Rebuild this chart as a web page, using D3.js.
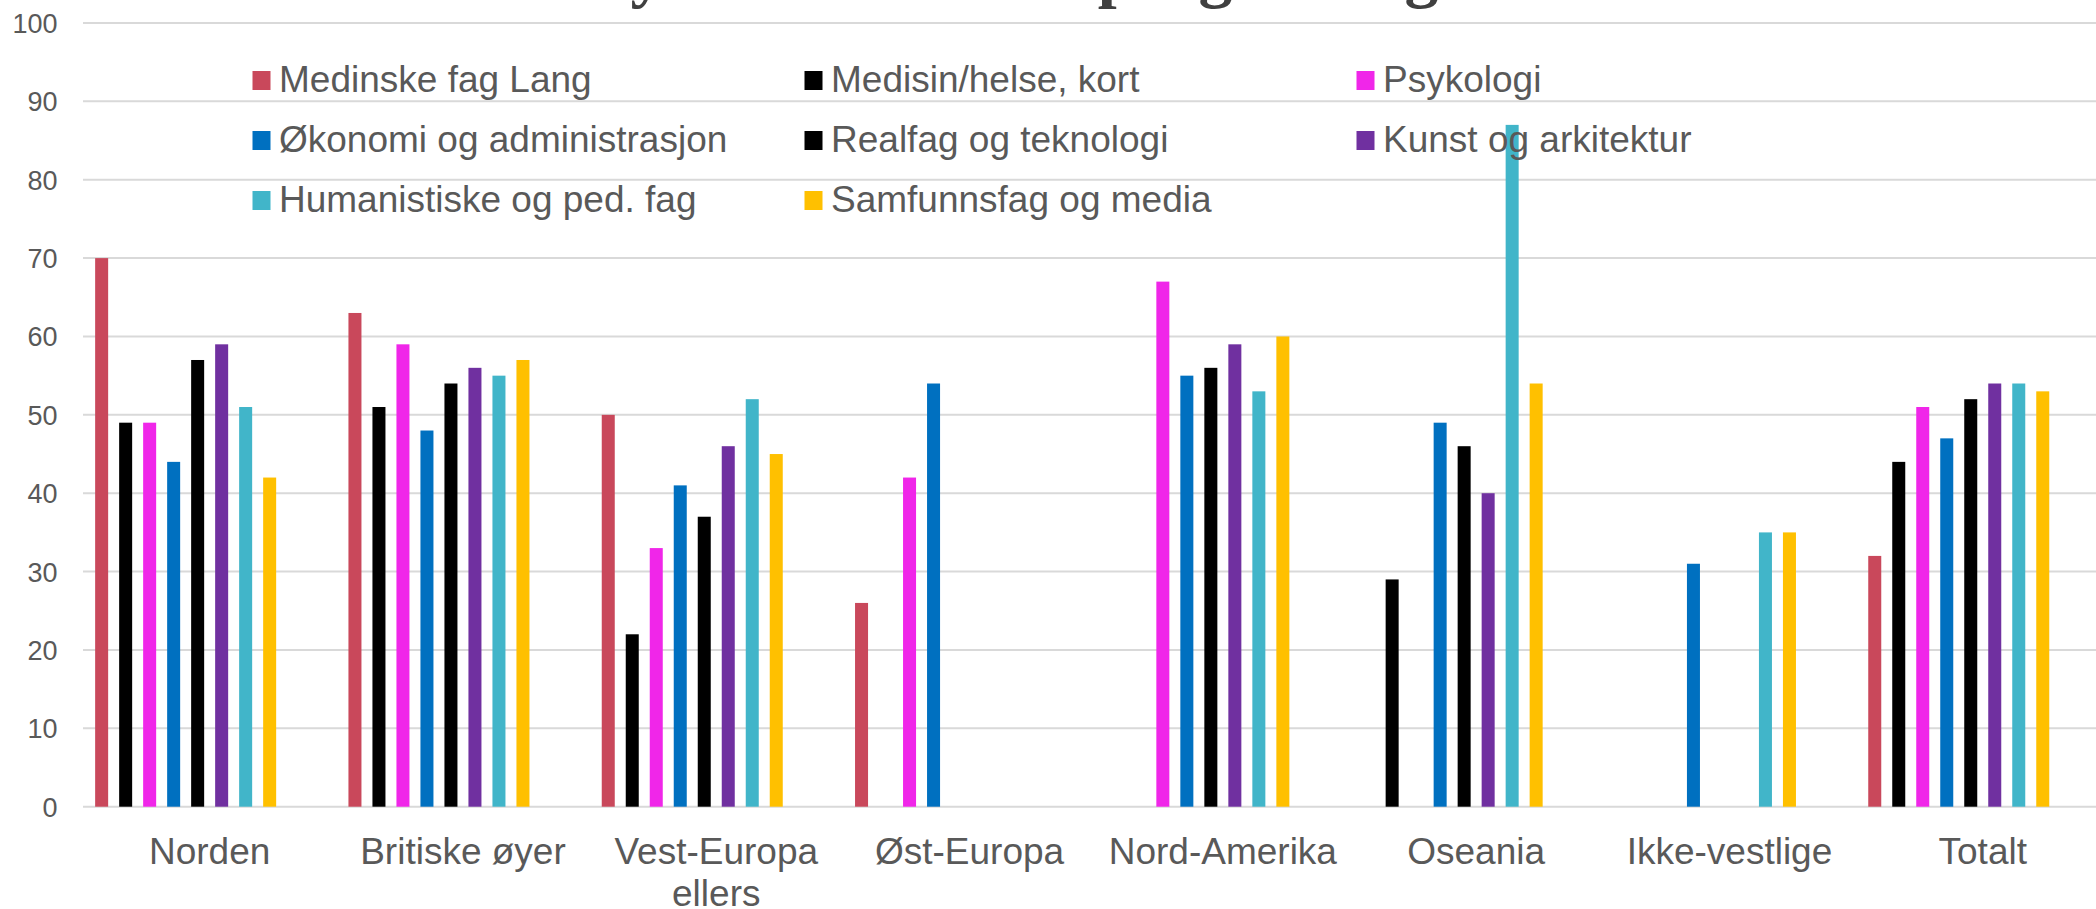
<!DOCTYPE html>
<html>
<head>
<meta charset="utf-8">
<script src="https://cdn.jsdelivr.net/npm/d3@7"></script>
<style>
  html, body { margin: 0; padding: 0; background: #ffffff; overflow: hidden; }
  svg { display: block; }
</style>
</head>
<body>
<svg id="chart" width="2096" height="909"></svg>
<script>
// ---- data ----
const categories = ["Norden", "Britiske øyer", "Vest-Europa ellers", "Øst-Europa", "Nord-Amerika", "Oseania", "Ikke-vestlige", "Totalt"];
const categoryLines = [["Norden"], ["Britiske øyer"], ["Vest-Europa", "ellers"], ["Øst-Europa"], ["Nord-Amerika"], ["Oseania"], ["Ikke-vestlige"], ["Totalt"]];
const seriesNames = ["Medinske fag Lang", "Medisin/helse, kort", "Psykologi", "Økonomi og administrasjon", "Realfag og teknologi", "Kunst og arkitektur", "Humanistiske og ped. fag", "Samfunnsfag og media"];
const seriesColors = ["#C9485B", "#000000", "#F026E9", "#0070C0", "#000000", "#7030A0", "#41B5C9", "#FFC000"];
const medinskeLang   = [70, 63, 50, 26, null, null, null, 32];
const medisinKort    = [49, 51, 22, null, null, 29, null, 44];
const psykologi      = [49, 59, 33, 42, 67, null, null, 51];
const okonomi        = [44, 48, 41, 54, 55, 49, 31, 47];
const realfag        = [57, 54, 37, null, 56, 46, null, 52];
const kunst          = [59, 56, 46, null, 59, 40, null, 54];
const humanistiske   = [51, 55, 52, null, 53, 87, 35, 54];
const samfunnsfag    = [42, 57, 45, null, 60, 54, 35, 53];
const seriesValues = [medinskeLang, medisinKort, psykologi, okonomi, realfag, kunst, humanistiske, samfunnsfag];
const slotCount = 10; // clustered chart reserves 10 slots per category (2 empty)
const yTicks = [0, 10, 20, 30, 40, 50, 60, 70, 80, 90, 100];
const titleParts = ["Fornøyd med", "studieprogram og land"];

// ---- layout ----
const svg = d3.select("#chart");
const font = "'Liberation Sans', Arial, sans-serif";
const textColor = "#595959";

const y = d3.scaleLinear().domain([0, 100]).range([806.7, 23]);
const x = d3.scaleBand().domain(categories).range([83, 2109.4]).padding(0);
const xs = d3.scaleBand().domain(d3.range(slotCount)).range([0, x.bandwidth()])
  .paddingInner(0.458).paddingOuter(0.506);

// title (cut off at top)
const title = svg.append("text")
  .attr("y", -5)
  .attr("font-family", "'Liberation Serif', 'Times New Roman', serif")
  .attr("font-weight", "bold")
  .attr("font-size", 68)
  .attr("fill", "#404040");
title.append("tspan").attr("x", 453).text(titleParts[0]);
title.append("tspan").attr("x", 924).text(titleParts[1]);

// gridlines
svg.append("g").selectAll("line").data(yTicks).join("line")
  .attr("x1", 83).attr("x2", 2096)
  .attr("y1", d => y(d)).attr("y2", d => y(d))
  .attr("stroke", "#D9D9D9").attr("stroke-width", 2);

// y axis labels
const yAxis = d3.axisLeft(y).tickValues(yTicks).tickSize(0).tickPadding(0);
const ya = svg.append("g").attr("transform", "translate(57.5,0)").call(yAxis);
ya.select(".domain").remove();
ya.selectAll("text")
  .attr("font-family", font).attr("font-size", 27).attr("fill", textColor)
  .attr("dy", "0.35em").attr("x", 0);

// bars
const groups = svg.append("g").selectAll("g").data(categories).join("g")
  .attr("transform", d => `translate(${x(d)},0)`);
groups.each(function(cat, ci) {
  const data = seriesValues.map((vals, si) => ({ si, v: vals[ci] })).filter(d => d.v != null);
  d3.select(this).selectAll("rect").data(data).join("rect")
    .attr("x", d => xs(d.si))
    .attr("width", xs.bandwidth())
    .attr("y", d => y(d.v))
    .attr("height", d => y(0) - y(d.v))
    .attr("fill", d => seriesColors[d.si]);
});

// category labels
const xl = svg.append("g");
categories.forEach((c, i) => {
  const t = xl.append("text")
    .attr("text-anchor", "middle")
    .attr("font-family", font).attr("font-size", 37).attr("fill", textColor);
  categoryLines[i].forEach((line, li) => {
    t.append("tspan").attr("x", x(c) + x.bandwidth() / 2).attr("y", 864 + li * 42).text(line);
  });
});

// legend
const legend = svg.append("g");
seriesNames.forEach((name, i) => {
  const col = i % 3, row = Math.floor(i / 3);
  const sx = 252.5 + col * 552, cy = 80.5 + row * 60;
  legend.append("rect").attr("x", sx).attr("y", cy - 9.5).attr("width", 18).attr("height", 19)
    .attr("fill", seriesColors[i]);
  legend.append("text").attr("x", sx + 26.5).attr("y", cy + 11.5)
    .attr("font-family", font).attr("font-size", 37).attr("fill", textColor)
    .text(name);
});
</script>
</body>
</html>
